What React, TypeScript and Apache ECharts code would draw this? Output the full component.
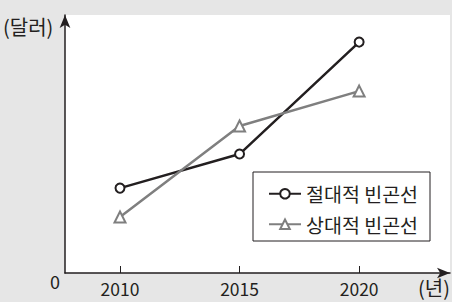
import React, { useEffect, useRef } from "react";
import * as echarts from "echarts";

const years = [2010, 2015, 2020];
const absolutePoverty = [32.9, 46.1, 89.5];
const relativePoverty = [21.7, 57.0, 70.5];
const seriesNames = ["절대적 빈곤선", "상대적 빈곤선"];
const yUnit = "(달러)";
const xUnit = "(년)";
const originLabel = "0";

const FONT = "'Noto Sans CJK KR', 'Noto Sans', sans-serif";

export default function App() {
  const ref = useRef<HTMLDivElement>(null);
  useEffect(() => {
    document.body.style.margin = "0";
    if (!ref.current) return;
    const chart = echarts.init(ref.current, null, { renderer: "svg" });
    chart.setOption({
      animation: false,
      backgroundColor: "#e6e6e6",
      textStyle: { fontFamily: FONT },
      grid: {
        left: 65,
        right: 2,
        top: 15,
        bottom: 29,
        show: true,
        backgroundColor: "#ffffff",
        borderWidth: 0,
      },
      xAxis: {
        type: "value",
        min: 2007.7,
        max: 2023.8,
        splitLine: { show: false },
        axisLine: {
          show: true,
          lineStyle: { color: "#231f20", width: 1.5 },
          symbol: ["none", "arrow"],
          symbolSize: [8, 13],
        },
        axisTick: {
          show: true,
          inside: true,
          length: 7,
          customValues: years,
          lineStyle: { color: "#231f20", width: 1 },
        },
        axisLabel: {
          show: true,
          customValues: years,
          formatter: (v: number) => String(v),
          margin: 7,
          color: "#231f20",
          fontSize: 17.5,
          fontFamily: FONT,
        },
      },
      yAxis: {
        type: "value",
        min: 0,
        max: 100,
        splitLine: { show: false },
        axisTick: { show: false },
        axisLabel: { show: false },
        axisLine: {
          show: true,
          onZero: false,
          lineStyle: { color: "#231f20", width: 1.5 },
          symbol: ["none", "arrow"],
          symbolSize: [8, 13],
        },
      },
      legend: {
        orient: "vertical",
        left: 253,
        top: 172,
        padding: [12, 12, 7, 15],
        itemGap: 11,
        itemWidth: 32,
        itemHeight: 12,
        backgroundColor: "#ffffff",
        borderColor: "#231f20",
        borderWidth: 1,
        borderRadius: 0,
        textStyle: { fontSize: 19.5, color: "#231f20", fontFamily: FONT },
        data: seriesNames,
      },
      series: [
        {
          name: seriesNames[0],
          type: "line",
          data: years.map((y, i) => [y, absolutePoverty[i]]),
          symbol: "emptyCircle",
          symbolSize: 9,
          lineStyle: { color: "#231f20", width: 2.5 },
          itemStyle: { color: "#231f20", borderWidth: 1.5 },
        },
        {
          name: seriesNames[1],
          type: "line",
          data: years.map((y, i) => [y, relativePoverty[i]]),
          symbol: "emptyTriangle",
          symbolSize: 11,
          lineStyle: { color: "#7f7f7f", width: 2.5 },
          itemStyle: { color: "#7f7f7f", borderWidth: 1.5 },
        },
      ],
      graphic: [
        {
          type: "text",
          left: 3,
          top: 16,
          style: { text: yUnit, fontSize: 20, fill: "#231f20", fontFamily: FONT },
        },
        {
          type: "text",
          left: 50,
          top: 272,
          style: { text: originLabel, fontSize: 18, fill: "#231f20", fontFamily: FONT },
        },
        {
          type: "text",
          right: 2,
          top: 277,
          style: { text: xUnit, fontSize: 20, fill: "#231f20", fontFamily: FONT },
        },
      ],
    });
    return () => chart.dispose();
  }, []);
  return <div ref={ref} style={{ width: 452, height: 302 }} />;
}
